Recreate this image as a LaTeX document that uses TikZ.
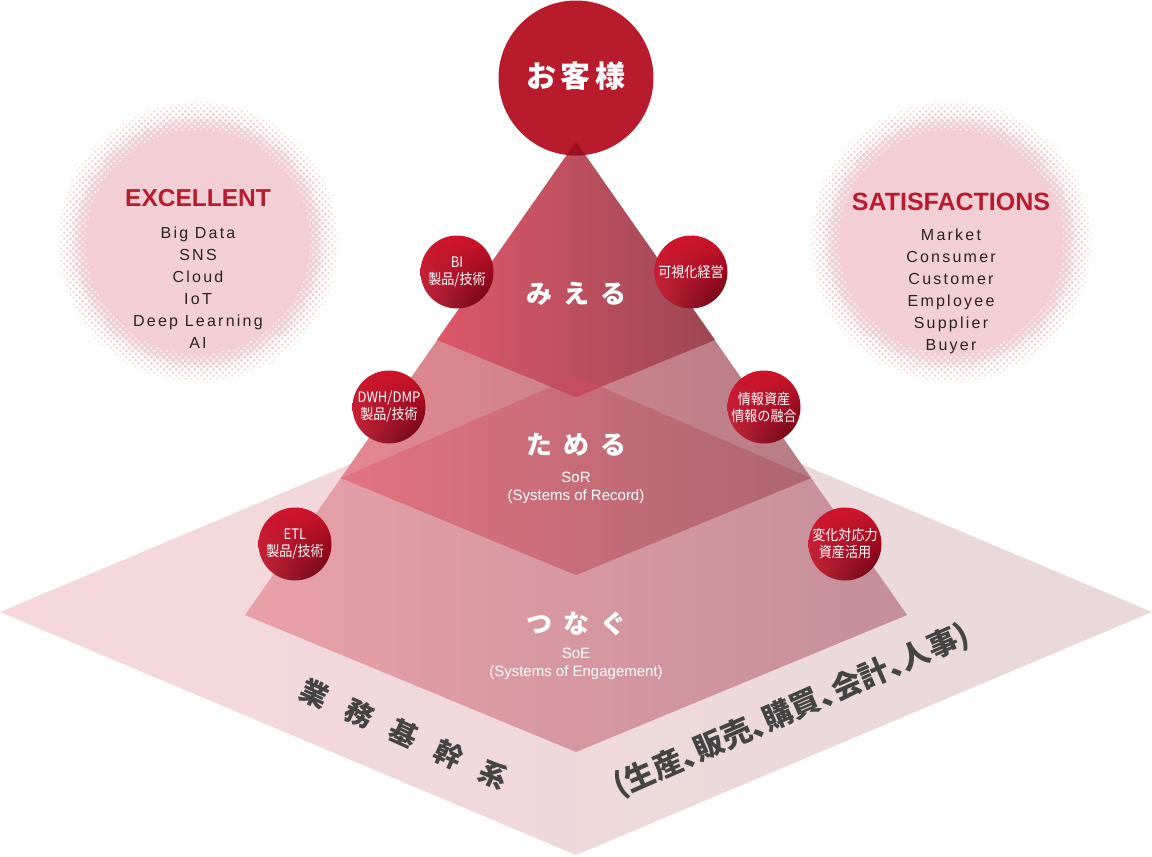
\documentclass[tikz,border=0pt]{standalone}
\usepackage{fontspec}
\usetikzlibrary{shadings}
\setmainfont{Liberation Sans}
\newfontfamily\jp{Noto Sans CJK JP}
\newfontfamily\jpn{Noto Sans CJK JP}[FakeStretch=0.9]
\newfontfamily\jpp{Noto Sans CJK JP}[RawFeature=+palt]
\newfontfamily\lsp{Liberation Sans}[LetterSpace=14]
\definecolor{circred}{HTML}{B81C2C}
\definecolor{titlered}{HTML}{B81C2C}
\definecolor{listtxt}{HTML}{2B2222}
\definecolor{halo}{HTML}{F1CFD5}
\definecolor{bottxt}{HTML}{444444}
\definecolor{baseL}{HTML}{F6D8DC}
\definecolor{baseR}{HTML}{E8D9DB}
\definecolor{botL}{HTML}{E9A0A8}
\definecolor{botM}{HTML}{E3A3A9}
\definecolor{botR}{HTML}{C48F99}
\definecolor{midL}{HTML}{E48891}
\definecolor{midM}{HTML}{D98A94}
\definecolor{midR}{HTML}{B67D86}
\definecolor{diaL}{HTML}{E1737F}
\definecolor{diaM}{HTML}{D67580}
\definecolor{diaR}{HTML}{AC6670}
\definecolor{topL}{HTML}{DD5869}
\definecolor{topM}{HTML}{D05F6D}
\definecolor{topR}{HTML}{9C4753}
\definecolor{ovl}{HTML}{C64C5E}
\definecolor{apexovl}{HTML}{9C1020}
\definecolor{sphUL}{HTML}{D0142C}
\definecolor{sphLL}{HTML}{C02A3C}
\definecolor{sphLR}{HTML}{5E000F}
\newcommand\halftone[2]{%
  \begin{scope}[shift={(#1,#2)}]
    \fill[halo] (0,0) circle (112pt);
    \foreach \i in {-32,...,32}{
      \foreach \j in {-32,...,32}{
        \pgfmathsetmacro\dd{4.4*sqrt(\i*\i+\j*\j)}
        \ifdim\dd pt>108pt\relax\ifdim\dd pt<142pt\relax
          \pgfmathsetmacro\rr{2.7*sqrt((142-\dd)/34)}
          \fill[halo] ({(\i-\j)*3.111},{(\i+\j)*3.111}) circle (\rr pt);
        \fi\fi
      }}
  \end{scope}}
\tikzset{
  sphere/.style={circle, minimum size=73pt, inner sep=0pt,
    upper left=sphUL, upper right=sphUL, lower left=sphLL, lower right=sphLR,
    text=white, align=center, font=\jpn\fontsize{14.5}{17}\selectfont},
  layerlbl/.style={text=white, font=\jp\bfseries\fontsize{26}{26}\selectfont},
  sublbl/.style={text=white, align=center, font=\fontsize{15}{18}\selectfont},
  ctitle/.style={text=titlered, font=\bfseries\fontsize{24.5}{24.5}\selectfont},
  clist/.style={text=listtxt, align=center, font=\lsp\fontsize{16}{22}\selectfont},
}
\begin{document}
\begin{tikzpicture}[x=1pt,y=-1pt]
\useasboundingbox (0,0) rectangle (1152,857);
% halftone circles
\halftone{198}{242}
\halftone{951}{242}
% coordinates
\coordinate (A) at (576,142);
% base diamond
\shade[left color=baseL, right color=baseR]
  (0,612) -- (576,369) -- (1152,612) -- (576,855) -- cycle;
% bottom kite
\shade[left color=botL, middle color=botM, right color=botR]
  (A) -- (245,615) -- (576,752) -- (907,615) -- cycle;
% middle kite
\shade[left color=midL, middle color=midM, right color=midR]
  (A) -- (341,478) -- (576,575) -- (811,478) -- cycle;
% diamond
\shade[left color=diaL, middle color=diaM, right color=diaR]
  (341,478) -- (576,376) -- (811,478) -- (576,575) -- cycle;
% top kite
\shade[left color=topL, middle color=topM, right color=topR]
  (A) -- (437,340) -- (576,397) -- (715,340) -- cycle;
% overlap
\begin{scope}
  \clip (A) -- (437,340) -- (576,397) -- (715,340) -- cycle;
  \fill[ovl] (341,478) -- (576,376) -- (811,478) -- (576,575) -- cycle;
\end{scope}
% customer circle
\fill[circred] (576,78) circle (77.5pt);
\begin{scope}
  \clip (576,78) circle (77.5pt);
  \fill[apexovl] (A) -- (437,340) -- (715,340) -- cycle;
\end{scope}
\node[text=white, font=\jp\bfseries\fontsize{30}{30}\selectfont] (cust) at (576,76) {お\hspace{5pt}客\hspace{5pt}様};
% layer labels
\node[layerlbl] (mieru) at (576,294) {み\hspace{11pt}え\hspace{11pt}る};
\node[layerlbl] (tameru) at (576,445) {た\hspace{11pt}め\hspace{11pt}る};
\node[sublbl] (sor) at (576,488) {SoR\\(Systems of Record)};
\node[layerlbl] (tsunagu) at (576,624) {つ\hspace{11pt}な\hspace{11pt}ぐ};
\node[sublbl] (soe) at (576,664) {SoE\\(Systems of Engagement)};
% spheres
\node[sphere] (bi) at (457,272) {BI\\製品/技術};
\node[sphere] (kashika) at (691,272) {可視化経営};
\node[sphere] (dwh) at (389,407) {DWH/DMP\\製品/技術};
\node[sphere] (joho) at (764,407) {情報資産\\情報の融合};
\node[sphere] (etl) at (295,544) {ETL\\製品/技術};
\node[sphere] (henka) at (845,544) {変化対応力\\資産活用};
% big circle texts
\node[ctitle] (exc) at (198,198) {EXCELLENT};
\node[clist] (exclist) at (198,288) {Big Data\\SNS\\Cloud\\IoT\\Deep Learning\\AI};
\node[ctitle, font=\bfseries\fontsize{25}{25}\selectfont] (sat) at (951,202) {SATISFACTIONS};
\node[clist] (satlist) at (951,291) {Market\\Consumer\\Customer\\Employee\\Supplier\\Buyer};
% bottom texts
\node[rotate=-24.5, text=bottxt, font=\jp\bfseries\fontsize{28}{28}\selectfont] (gyomu) at (404,734) {業\hspace{21pt}務\hspace{21pt}基\hspace{21pt}幹\hspace{21pt}系};
\node[rotate=23.6, text=bottxt, font=\jpp\bfseries\fontsize{30}{30}\selectfont] (bumon) at (792,711) {(生産、販売、購買、会計、人事)};
\end{tikzpicture}
\end{document}
